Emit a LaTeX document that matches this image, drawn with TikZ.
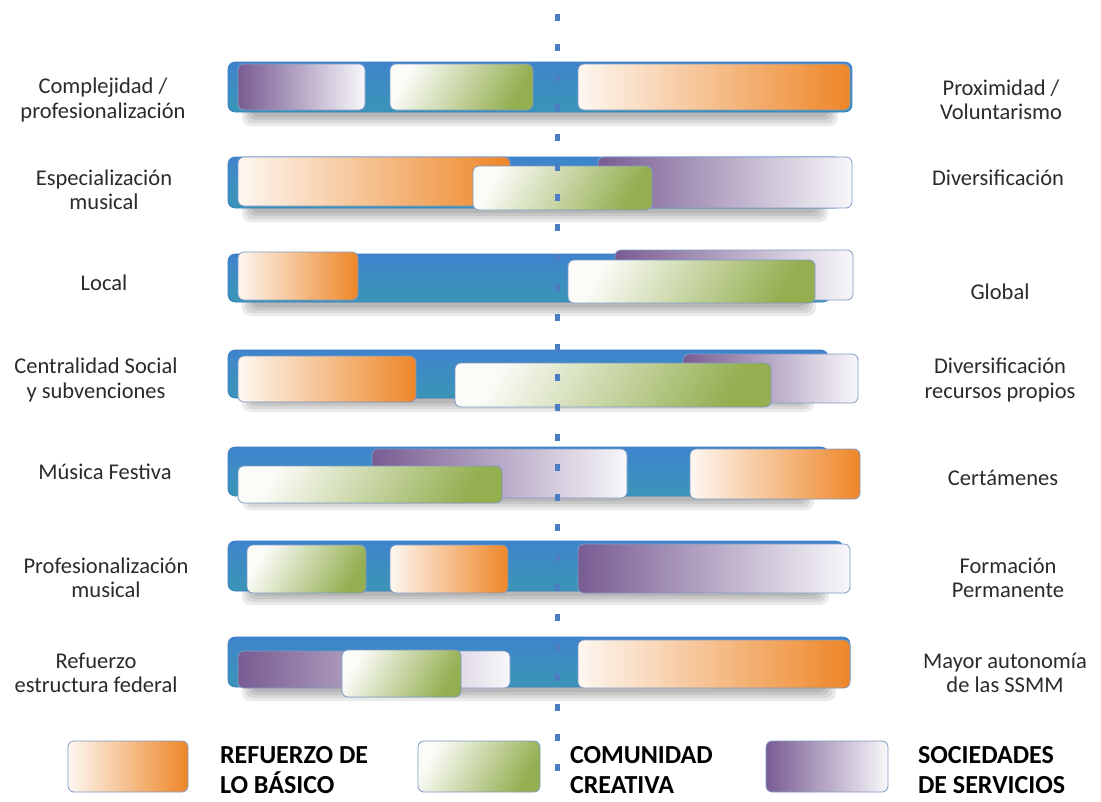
\documentclass[tikz,border=0pt]{standalone}
\usepackage{fontspec}
\setmainfont{Carlito}
\definecolor{blueT}{HTML}{3F84CD}
\definecolor{blueB}{HTML}{3A95B6}
\definecolor{blueE}{HTML}{3B7CC0}
\definecolor{boxE}{HTML}{7E9AC6}
\definecolor{orL}{HTML}{FDF7F1}
\definecolor{orM}{HTML}{F5B47C}
\definecolor{orD}{HTML}{EE8627}
\definecolor{grL}{HTML}{FBFCF8}
\definecolor{grM}{HTML}{DDE6CC}
\definecolor{grD}{HTML}{94AE50}
\definecolor{puD}{HTML}{785C92}
\definecolor{puM}{HTML}{B5A8C6}
\definecolor{puL}{HTML}{F8F7FA}
\definecolor{dotc}{HTML}{4C7DC2}
\definecolor{txt}{HTML}{2B2B2B}
\newcommand{\rbox}[6]{\node[#2, minimum width={(#5)-(#3)}, minimum height={(#6)-(#4)}] (#1) at ({((#3)+(#5))/2},{((#4)+(#6))/2}) {};}
\newcommand{\shd}[4]{\foreach \d in {0,1,2,3}{\fill[black, opacity=0.08, rounded corners=8pt] ({#1+14+3*\d},{#4-20}) rectangle ({#3-14-3*\d},{#4+14-3*\d});}}
\begin{document}
\begin{tikzpicture}[x=1pt,y=-1pt,
  every node/.style={inner sep=0pt, outer sep=0pt},
  barstyle/.style={rounded corners=7pt, top color=blueT, bottom color=blueB, draw=blueE, line width=0.6pt},
  orbox/.style={rounded corners=6pt, draw=boxE, line width=0.8pt, left color=orL, middle color=orM, right color=orD},
  grbox/.style={rounded corners=6pt, draw=boxE, line width=0.8pt, left color=grL, middle color=grM, right color=grD, shading angle=60},
  pubox/.style={rounded corners=6pt, draw=boxE, line width=0.8pt, left color=puD, middle color=puM, right color=puL},
  lab/.style={text=txt, font=\fontsize{22.5}{24.5}\selectfont, align=center},
  leg/.style={text=black, font=\fontsize{26}{30}\selectfont\bfseries, align=left, anchor=west}
]
\useasboundingbox[fill=white] (0,0) rectangle (1101,801);

% Row 1
\shd{228}{62}{852}{112}
\rbox{b1}{barstyle}{228}{62}{852}{112}
\rbox{p1}{pubox}{238}{64}{365}{110}
\rbox{g1}{grbox}{390}{64}{533}{110}
\rbox{o1}{orbox}{578}{64}{850}{110}
% Row 2
\shd{228}{157}{842}{208}
\rbox{b2}{barstyle}{228}{157}{842}{208}
\rbox{o2}{orbox}{238}{157}{510}{206}
\rbox{p2}{pubox}{598}{157}{852}{208}
\rbox{g2}{grbox}{473}{166}{652}{210}
% Row 3
\shd{228}{254}{830}{302}
\rbox{b3}{barstyle}{228}{254}{830}{302}
\rbox{o3}{orbox}{238}{252}{358}{300}
\rbox{p3}{pubox}{615}{250}{853}{300}
\rbox{g3}{grbox}{568}{260}{815}{303}
% Row 4
\shd{228}{350}{828}{398}
\rbox{b4}{barstyle}{228}{350}{828}{398}
\rbox{o4}{orbox}{238}{356}{416}{402}
\rbox{p4}{pubox}{683}{354}{858}{403}
\rbox{g4}{grbox}{455}{363}{771}{407}
% Row 5
\shd{228}{447}{828}{496}
\rbox{b5}{barstyle}{228}{447}{828}{496}
\rbox{p5}{pubox}{372}{449}{627}{498}
\rbox{o5}{orbox}{690}{449}{860}{499}
\rbox{g5}{grbox}{238}{466}{502}{503}
% Row 6
\shd{228}{541}{843}{591}
\rbox{b6}{barstyle}{228}{541}{843}{591}
\rbox{g6}{grbox}{247}{545}{366}{593}
\rbox{o6}{orbox}{390}{545}{508}{593}
\rbox{p6}{pubox}{578}{544}{850}{593}
% Row 7
\shd{228}{637}{850}{687}
\rbox{b7}{barstyle}{228}{637}{850}{687}
\rbox{p7}{pubox}{238}{651}{510}{688}
\rbox{g7}{grbox}{342}{650}{461}{697}
\rbox{o7}{orbox}{578}{640}{850}{688}

% dotted axis
\foreach \k in {0,...,25}{\fill[dotc] (555,{17+30*\k-3.5}) rectangle (560,{17+30*\k+3.5});}

% left labels
\node[lab] (l1) at (103,100) {Complejidad /\\profesionalización};
\node[lab] (l2) at (104,190) {Especialización\\musical};
\node[lab] (l3) at (104,283) {Local};
\node[lab] (l4) at (96,380) {Centralidad Social\\y subvenciones};
\node[lab] (l5) at (105,472) {Música Festiva};
\node[lab] (l6) at (106,578) {Profesionalización\\musical};
\node[lab] (l7) at (96,673) {Refuerzo\\estructura federal};
% right labels
\node[lab] (r1) at (1001,100) {Proximidad /\\Voluntarismo};
\node[lab] (r2) at (998,178) {Diversificación};
\node[lab] (r3) at (1000,292) {Global};
\node[lab] (r4) at (1000,380) {Diversificación\\recursos propios};
\node[lab] (r5) at (1003,478) {Certámenes};
\node[lab] (r6) at (1008,578) {Formación\\Permanente};
\node[lab] (r7) at (1005,673) {Mayor autonomía\\de las SSMM};

% legend
\rbox{lo}{orbox}{68}{741}{188}{792}
\rbox{lg}{grbox}{418}{741}{540}{792}
\rbox{lp}{pubox}{766}{741}{888}{792}
\node[leg] (to) at (220,770) {REFUERZO DE\\LO BÁSICO};
\node[leg] (tg) at (570,770) {COMUNIDAD\\CREATIVA};
\node[leg] (tp) at (918,770) {SOCIEDADES\\DE SERVICIOS};
\end{tikzpicture}
\end{document}
